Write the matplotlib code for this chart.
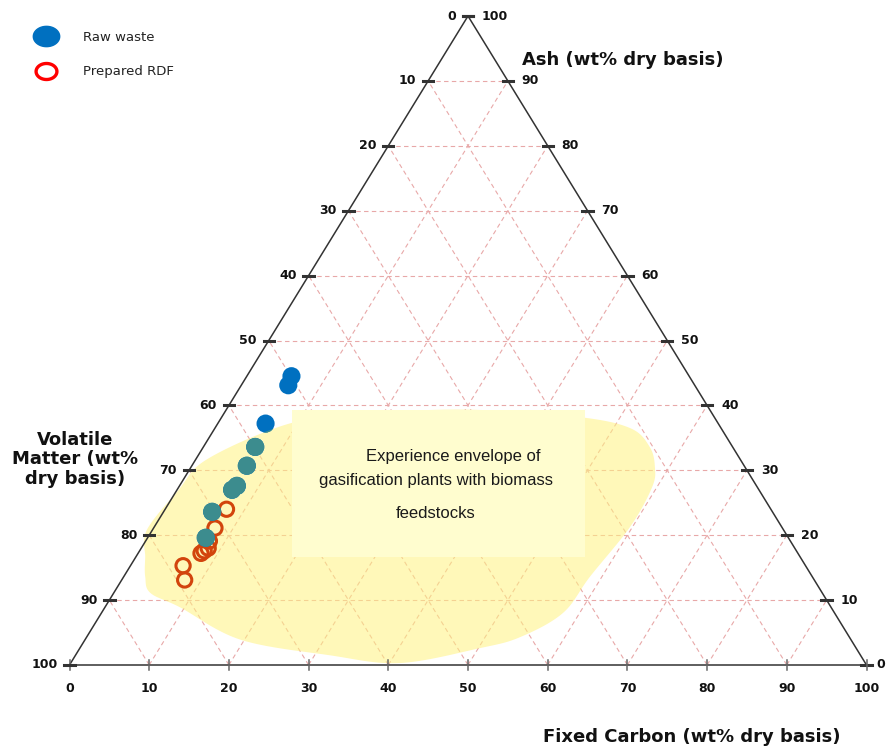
import numpy as np
import matplotlib
matplotlib.use("Agg")
import matplotlib.pyplot as plt
from matplotlib.patches import Polygon, Rectangle
from matplotlib.lines import Line2D
from matplotlib.path import Path

# ---------------- data (wt% dry basis) ----------------
raw_ash = [44.5, 43.1, 37.2, 33.6, 30.7, 27.6, 27.0, 23.6, 19.6]
raw_fc = [5.6, 5.9, 6.0, 6.5, 6.9, 7.2, 6.9, 6.1, 7.3]
rdf_ash = [24.0, 21.1, 19.1, 18.0, 17.6, 17.2, 15.3, 13.1]
rdf_fc = [7.7, 7.7, 8.0, 8.4, 8.1, 7.9, 6.6, 7.9]

# experience envelope outline (Fixed Carbon %, Ash %)
env_fc = [2.7, 1.2, -0.7, 0.2, 1.1, 6.4, 12.0, 21.9, 31.9, 44.9, 52.1, 56.0,
          58.2, 59.4, 59.7, 58.5, 57.9, 54.4, 50.2, 41.3, 31.9, 19.5, 9.4, 4.6]
env_ash = [13.6, 16.6, 20.8, 27.0, 31.3, 35.8, 38.1, 39.1, 39.3, 38.2, 36.5, 33.6,
           30.5, 27.4, 21.3, 13.6, 8.0, 4.3, 2.6, 0.3, 1.5, 3.9, 8.9, 11.1]

ticks = [0, 10, 20, 30, 40, 50, 60, 70, 80, 90, 100]
legend_labels = ["Raw waste", "Prepared RDF"]


def tern(fc, ash):
    fc = np.asarray(fc, float)
    ash = np.asarray(ash, float)
    return fc + ash / 2.0, ash


def smooth_closed(x, y, n=20):
    P = np.column_stack([x, y])
    m = len(P)
    out = []
    t = np.linspace(0, 1, n, endpoint=False)[:, None]
    for i in range(m):
        p0, p1, p2, p3 = P[i - 1], P[i], P[(i + 1) % m], P[(i + 2) % m]
        seg = 0.5 * ((2 * p1) + (-p0 + p2) * t + (2 * p0 - 5 * p1 + 4 * p2 - p3) * t ** 2
                     + (-p0 + 3 * p1 - 3 * p2 + p3) * t ** 3)
        out.append(seg)
    return np.vstack(out)


W, H = 886, 749
fig = plt.figure(figsize=(W / 100, H / 100), dpi=100)
ax = fig.add_axes([0, 0, 1, 1])
ax.set_xlim(-69.5 / 7.97, (W - 69.5) / 7.97)
ax.set_ylim(-(H - 665) / 6.49, 665 / 6.49)
ax.axis("off")

grid_col = "#E8A8A8"
# grid lines
for k in ticks[1:-1]:
    # constant ash
    ax.plot([k / 2, 100 - k / 2], [k, k], color=grid_col, lw=0.8, ls=(0, (4, 3)), zorder=1)
    # constant fixed carbon
    ax.plot([k, k + (100 - k) / 2], [0, 100 - k], color=grid_col, lw=0.8, ls=(0, (4, 3)), zorder=1)
    # constant volatile matter
    ax.plot([100 - k, (100 - k) / 2], [0, 100 - k], color=grid_col, lw=0.8, ls=(0, (4, 3)), zorder=1)

# envelope
ex, ey = tern(env_fc, env_ash)
env_pts = smooth_closed(ex, ey)
env = Polygon(env_pts, closed=True, facecolor="#FFF380", edgecolor="none", alpha=0.55, zorder=2)
ax.add_patch(env)

# text box
ax.add_patch(Rectangle((27.9, 16.6), 36.8, 22.7, facecolor="#FFFDCF", edgecolor="none", zorder=3))
ax.text(48.2, 32.05, "Experience envelope of", ha="center", va="center",
        fontsize=12, family="Liberation Sans", color="#1a1a1a", zorder=4)
ax.text(46.0, 28.5, "gasification plants with biomass", ha="center", va="center",
        fontsize=12, family="Liberation Sans", color="#1a1a1a", zorder=4)
ax.text(46.0, 23.4, "feedstocks", ha="center", va="center",
        fontsize=12, family="Liberation Sans", color="#1a1a1a", zorder=4)

# triangle edges
ax.plot([0, 100, 50, 0], [0, 0, 100, 0], color="#333333", lw=1.1, zorder=5, solid_joinstyle="miter")

# ticks & labels
lab_kw = dict(fontsize=9, fontweight="bold", family="DejaVu Sans", color="#111111")
for k in ticks:
    # bottom (Fixed Carbon)
    ax.plot([k, k], [-0.7, 0.7], color="#666666", lw=1.1, zorder=5)
    ax.text(k, -3.6, str(k), ha="center", va="center", **lab_kw)
    # left (Volatile Matter)
    lx, ly = (100 - k) / 2, 100 - k
    ax.plot([lx - 0.65, lx + 0.65], [ly, ly], color="#333333", lw=2.2, zorder=5)
    ax.text(lx - 1.5, ly, str(k), ha="right", va="center", **lab_kw)
    # right (Ash)
    rx, ry = 100 - k / 2, k
    ax.plot([rx - 0.65, rx + 0.65], [ry, ry], color="#333333", lw=2.2, zorder=5)
    ax.text(rx + (1.75 if k > 0 else 1.3), ry, str(k), ha="left", va="center", **lab_kw)

title_kw = dict(fontsize=13, fontweight="bold", family="DejaVu Sans", color="#111111")
ax.text(56.8, 93.2, "Ash (wt% dry basis)", ha="left", va="center", **title_kw)
ax.text(0.7, 31.7, "Volatile\nMatter (wt%\ndry basis)", ha="center", va="center",
        multialignment="center", linespacing=1.12, **title_kw)
ax.text(78.1, -11.1, "Fixed Carbon (wt% dry basis)", ha="center", va="center", **title_kw)

# data points
rx_, ry_ = tern(rdf_fc, rdf_ash)
ax.scatter(rx_, ry_, s=105, facecolors="none", edgecolors="#D2440C", linewidths=2.2, zorder=6)
bx, by = tern(raw_fc, raw_ash)
ax.scatter(bx, by, s=170, color="#0070C0", edgecolors="none", zorder=7)
teal = ax.scatter(bx, by, s=170, color="#3C8C8E", edgecolors="none", zorder=7.5)
teal.set_clip_path(env)

# legend
th = np.linspace(0, 2 * np.pi, 60)
ell = Path(np.column_stack([1.3 * np.cos(th), np.sin(th)]), closed=True)
handles = [
    Line2D([], [], ls="", marker=ell, markersize=19, markerfacecolor="#0070C0", markeredgecolor="#0070C0"),
    Line2D([], [], ls="", marker=ell, markersize=15, markerfacecolor="none", markeredgecolor="#FF0000",
           markeredgewidth=2.4),
]
leg = ax.legend(handles, legend_labels, loc="upper left", bbox_to_anchor=(32.8 / W, 1 - 31.0 / H),
                bbox_transform=fig.transFigure, frameon=False, borderpad=0, borderaxespad=0,
                handlelength=2.0, handletextpad=1.8, labelspacing=1.62,
                prop=dict(family="DejaVu Sans", size=9.5))
for t in leg.get_texts():
    t.set_color("#222222")

fig.savefig("out.png", dpi=100)
